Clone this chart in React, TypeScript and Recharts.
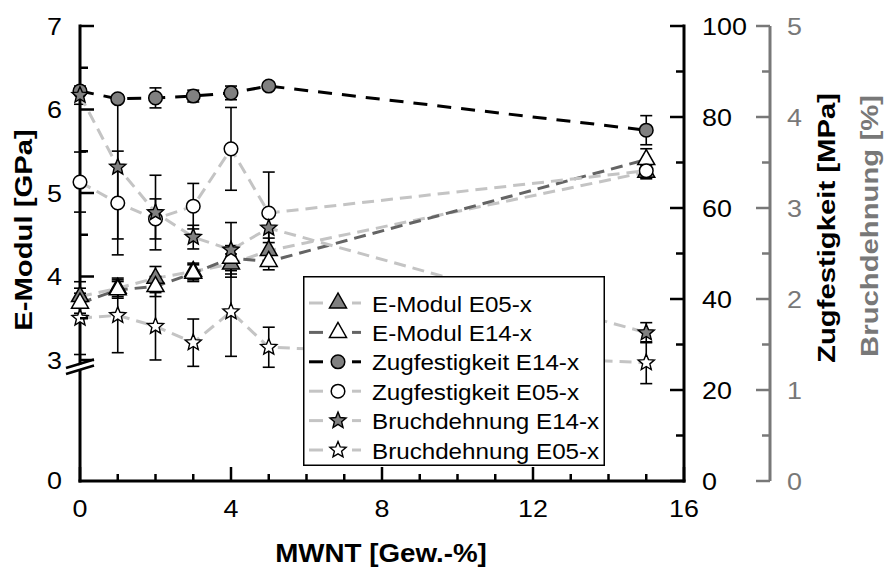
import { ComposedChart, Line, XAxis, YAxis, ErrorBar, Legend } from "recharts";

// MWNT content [Gew.-%]
const mwnt = [0, 1, 2, 3, 4, 5, 15];

// E-Modul [GPa]
const eModulE05 = [3.76, 3.86, 3.98, 4.06, 4.15, 4.31, 5.25];
const eModulE05Err = [0.1, 0.1, 0.14, 0.1, 0.12, 0.15, 0.08];
const eModulE14 = [3.68, 3.84, 3.88, 4.04, 4.22, 4.18, 5.4];
const eModulE14Err = [0.12, 0.1, 0.12, 0.1, 0.15, 0.1, 0.13];

// Zugfestigkeit [MPa]
const zugE14 = [85.7, 84.0, 84.2, 84.6, 85.3, 86.8, 77.1];
const zugE14Err = [0.6, 0.8, 2.2, 1.3, 1.5, 0.8, 3.2];
const zugE05 = [65.7, 61.1, 57.6, 60.4, 73.0, 58.9, 68.2];
const zugE05Err = [6.6, 11.4, 4.4, 5.0, 9.1, 9.0, 1.5];

// Bruchdehnung [%]
const bruchE14 = [4.24, 3.45, 2.95, 2.68, 2.54, 2.78, 1.63];
const bruchE14Err = [0.1, 0.79, 0.41, 0.13, 0.3, 0.16, 0.11];
const bruchE05 = [1.79, 1.82, 1.7, 1.52, 1.86, 1.47, 1.3];
const bruchE05Err = [0.4, 0.41, 0.37, 0.26, 0.49, 0.22, 0.23];

const seriesNames = [
  "E-Modul E05-x",
  "E-Modul E14-x",
  "Zugfestigkeit E14-x",
  "Zugfestigkeit E05-x",
  "Bruchdehnung E14-x",
  "Bruchdehnung E05-x",
];

// ticks
const xTicks = [0, 1, 2, 3, 4, 5, 6, 7, 8, 9, 10, 11, 12, 13, 14, 15, 16];
const xLabels = [0, 4, 8, 12, 16];
const eModulTicks = [3, 3.5, 4, 4.5, 5, 5.5, 6, 6.5, 7];
const zugTicks = [0, 10, 20, 30, 40, 50, 60, 70, 80, 90, 100];
const bruchTicks = [0, 0.5, 1, 1.5, 2, 2.5, 3, 3.5, 4, 4.5, 5];

// left axis is broken below 3 GPa; its bottom edge is labelled 0
const E_AXIS_BOTTOM = 1.551;

const FONT = "'Liberation Sans', Arial, Helvetica, sans-serif";
const LIGHT = "#c4c4c4";
const DARK = "#646464";
const MARKER_GRAY = "#808080";
const AXIS_GRAY = "#787878";

// axis ids: right-hand axes are stacked in id order, "r1" next to the plot
const ZUG = "r1zug";
const BRUCH = "r2bruch";

const seriesStyles = [
  { key: "eE05", axis: "e", stroke: LIGHT, dash: "12 7", shape: "triangle", fill: MARKER_GRAY },
  { key: "eE14", axis: "e", stroke: DARK, dash: "12 7", shape: "triangle", fill: "#fff" },
  { key: "zE14", axis: ZUG, stroke: "#000", dash: "14 10", shape: "circle", fill: MARKER_GRAY },
  { key: "zE05", axis: ZUG, stroke: LIGHT, dash: "12 7", shape: "circle", fill: "#fff" },
  { key: "bE14", axis: BRUCH, stroke: LIGHT, dash: "12 7", shape: "star", fill: MARKER_GRAY },
  { key: "bE05", axis: BRUCH, stroke: LIGHT, dash: "12 7", shape: "star", fill: "#fff" },
];

const rows = mwnt.map((m, i) => ({
  mwnt: m,
  eE05: eModulE05[i],
  eE05Err: eModulE05Err[i],
  eE14: eModulE14[i],
  eE14Err: eModulE14Err[i],
  zE14: zugE14[i],
  zE14Err: zugE14Err[i],
  zE05: zugE05[i],
  zE05Err: zugE05Err[i],
  bE14: bruchE14[i],
  bE14Err: bruchE14Err[i],
  bE05: bruchE05[i],
  bE05Err: bruchE05Err[i],
}));

function SText({ x, y, sx = 1.12, rotate = 0, anchor = "middle", size = 24, weight = "normal", fill = "#000", children }: any) {
  const t = rotate
    ? `translate(${x},${y}) rotate(${rotate}) scale(${sx},1)`
    : `translate(${x},${y}) scale(${sx},1)`;
  return (
    <text transform={t} x={0} y={0} textAnchor={anchor} fontSize={size} fontWeight={weight} fill={fill} fontFamily={FONT}>
      {children}
    </text>
  );
}

function starPoints(cx: number, cy: number, ro: number, ri: number) {
  const pts: string[] = [];
  for (let k = 0; k < 10; k++) {
    const r = k % 2 === 0 ? ro : ri;
    const a = -Math.PI / 2 + (k * Math.PI) / 5;
    pts.push(`${cx + r * Math.cos(a)},${cy + r * Math.sin(a)}`);
  }
  return pts.join(" ");
}

function Marker({ shape, fill, cx, cy }: any) {
  if (cx == null || cy == null) return null;
  if (shape === "triangle") {
    return (
      <polygon
        points={`${cx},${cy - 10} ${cx - 8.5},${cy + 5} ${cx + 8.5},${cy + 5}`}
        fill={fill}
        stroke="#000"
        strokeWidth={1.5}
      />
    );
  }
  if (shape === "circle") {
    return <circle cx={cx} cy={cy} r={6.8} fill={fill} stroke="#000" strokeWidth={1.5} />;
  }
  return <polygon points={starPoints(cx, cy, 8.5, 3.8)} fill={fill} stroke="#000" strokeWidth={1.4} />;
}

function BottomTick({ x, y, payload }: any) {
  const v = payload.value;
  const major = xLabels.includes(v);
  return (
    <g>
      <line x1={x} x2={x} y1={y} y2={y - (major ? 14 : 7)} stroke="#000" strokeWidth={2.5} />
      {major && <SText x={x} y={y + 36}>{v}</SText>}
    </g>
  );
}

function TopTick({ x, y, payload }: any) {
  const major = xLabels.includes(payload.value);
  return <line x1={x} x2={x} y1={y} y2={y + (major ? 14 : 7)} stroke="#000" strokeWidth={2.5} />;
}

function LeftTick({ x, y, payload }: any) {
  const v = payload.value;
  if (v === E_AXIS_BOTTOM) {
    return <SText x={x - 18} y={y + 8} anchor="end">0</SText>;
  }
  const major = Number.isInteger(v);
  return (
    <g>
      <line x1={x} x2={x + (major ? 14 : 8)} y1={y} y2={y} stroke="#000" strokeWidth={2.5} />
      {major && <SText x={x - 18} y={y + 8.5} anchor="end">{v}</SText>}
      {v === 3 && (
        <g>
          <polygon points={`${x - 13},${y + 9} ${x + 13},${y + 1} ${x + 13},${y + 5} ${x - 13},${y + 13}`} fill="#fff" />
          <line x1={x - 14} y1={y + 8} x2={x + 14} y2={y - 0.5} stroke="#000" strokeWidth={2.5} />
          <line x1={x - 14} y1={y + 14} x2={x + 14} y2={y + 5.5} stroke="#000" strokeWidth={2.5} />
        </g>
      )}
    </g>
  );
}

function ZugTick({ x, y, payload }: any) {
  const v = payload.value;
  const major = v % 20 === 0;
  return (
    <g>
      <line x1={x} x2={x - (major ? 14 : 8)} y1={y} y2={y} stroke="#000" strokeWidth={2.5} />
      {major && <SText x={x + 18} y={y + 8.5} anchor="start">{v}</SText>}
    </g>
  );
}

function BruchTick({ x, y, payload }: any) {
  const v = payload.value;
  const major = Number.isInteger(v);
  return (
    <g>
      <line x1={x} x2={x - (major ? 14 : 8)} y1={y} y2={y} stroke={AXIS_GRAY} strokeWidth={2.5} />
      {major && (
        <SText x={x + 17} y={y + 8.5} anchor="start" fill={AXIS_GRAY}>
          {v}
        </SText>
      )}
    </g>
  );
}

function XTitle() {
  return (
    <SText x={381} y={562} size={25} weight="bold" sx={1.11}>
      MWNT [Gew.-%]
    </SText>
  );
}

function ETitle() {
  return (
    <SText x={32} y={230} rotate={-90} weight="bold" sx={1.22}>
      E-Modul [GPa]
    </SText>
  );
}

function RightTitles() {
  return (
    <g>
      <SText x={835} y={228} rotate={-90} weight="bold" sx={1.22}>
        Zugfestigkeit [MPa]
      </SText>
      <SText x={878} y={226} rotate={-90} weight="bold" sx={1.22} fill={AXIS_GRAY}>
        Bruchdehnung [%]
      </SText>
    </g>
  );
}

function LegendBox() {
  return (
    <svg width={302} height={190} style={{ display: "block" }}>
      <rect x={0.75} y={0.75} width={300.5} height={188.5} fill="#fff" stroke="#000" strokeWidth={1.5} />
      {seriesNames.map((name, i) => {
        const s = seriesStyles[i];
        const cy = 27 + i * 29.4;
        return (
          <g key={name}>
            <line x1={6} x2={20} y1={cy} y2={cy} stroke={s.stroke} strokeWidth={3} />
            <line x1={49} x2={58} y1={cy} y2={cy} stroke={s.stroke} strokeWidth={3} />
            <Marker shape={s.shape} fill={s.fill} cx={35} cy={cy} />
            <SText x={69} y={cy + 8.5} size={22} sx={1.1} anchor="start">
              {name}
            </SText>
          </g>
        );
      })}
    </svg>
  );
}

const axisStyle = { stroke: "#000", strokeWidth: 3, strokeLinecap: "square" as const };

export default function App() {
  return (
    <div style={{ position: "absolute", left: 0, top: 0, width: 888, height: 568, background: "#fff" }}>
      <ComposedChart width={888} height={568} data={rows} margin={{ top: 26, right: 0, bottom: 0, left: 0 }}>
        <XAxis
          xAxisId="b"
          dataKey="mwnt"
          type="number"
          domain={[0, 16]}
          ticks={xTicks}
          interval={0}
          height={87}
          tickSize={0}
          tickMargin={0}
          tickLine={false}
          axisLine={axisStyle}
          tick={(p: any) => <BottomTick {...p} />}
          label={<XTitle />}
        />
        <XAxis
          xAxisId="t"
          orientation="top"
          dataKey="mwnt"
          type="number"
          domain={[0, 16]}
          ticks={xTicks}
          interval={0}
          height={0}
          tickSize={0}
          tickMargin={0}
          tickLine={false}
          axisLine={axisStyle}
          tick={(p: any) => <TopTick {...p} />}
        />
        <YAxis
          yAxisId="e"
          type="number"
          domain={[E_AXIS_BOTTOM, 7]}
          ticks={[E_AXIS_BOTTOM, ...eModulTicks]}
          interval={0}
          width={80}
          tickSize={0}
          tickMargin={0}
          tickLine={false}
          axisLine={axisStyle}
          tick={(p: any) => <LeftTick {...p} />}
          label={<ETitle />}
        />
        <YAxis
          yAxisId={ZUG}
          orientation="right"
          type="number"
          domain={[0, 100]}
          ticks={zugTicks}
          interval={0}
          width={86}
          tickSize={0}
          tickMargin={0}
          tickLine={false}
          axisLine={axisStyle}
          tick={(p: any) => <ZugTick {...p} />}
        />
        <YAxis
          yAxisId={BRUCH}
          orientation="right"
          type="number"
          domain={[0, 5]}
          ticks={bruchTicks}
          interval={0}
          width={118}
          tickSize={0}
          tickMargin={0}
          tickLine={false}
          axisLine={{ stroke: AXIS_GRAY, strokeWidth: 3 }}
          tick={(p: any) => <BruchTick {...p} />}
          label={<RightTitles />}
        />
        {seriesStyles.map((s, i) => (
          <Line
            key={s.key}
            name={seriesNames[i]}
            xAxisId="b"
            yAxisId={s.axis}
            dataKey={s.key}
            stroke={s.stroke}
            strokeWidth={3}
            strokeDasharray={s.dash}
            isAnimationActive={false}
            activeDot={false}
            dot={(p: any) => <Marker key={`${s.key}-${p.index}`} shape={s.shape} fill={s.fill} cx={p.cx} cy={p.cy} />}
          >
            <ErrorBar dataKey={`${s.key}Err`} width={6} strokeWidth={1.6} stroke="#000" direction="y" isAnimationActive={false} />
          </Line>
        ))}
        <Legend
          layout="horizontal"
          verticalAlign="middle"
          align="center"
          wrapperStyle={{ left: 303, top: 276, width: 302, height: 190 }}
          content={() => <LegendBox />}
        />
      </ComposedChart>
    </div>
  );
}
